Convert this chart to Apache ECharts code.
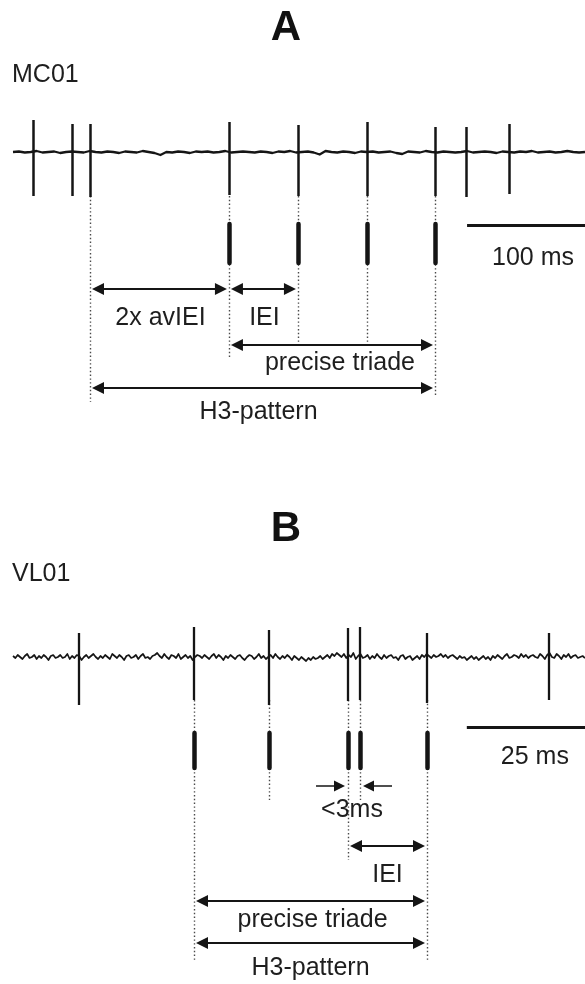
<!DOCTYPE html>
<html><head><meta charset="utf-8">
<script src="https://cdn.jsdelivr.net/npm/echarts@6/dist/echarts.min.js"></script>
<style>html,body{margin:0;padding:0;background:#fff}#c{width:585px;height:984px}</style>
</head><body><div id="c"></div>
<script>
// ---------------- DATA ----------------
// Panel A (MC01) – time in ms, amplitudes in arbitrary units
const spikeTimesA = [17.0, 50.0, 65.3, 183.1, 241.6, 300.2, 357.8, 384.1, 420.6];
const spikeUpA    = [32, 28, 28, 30, 27, 30, 25, 25, 28];
const spikeDownA  = [44, 44, 45, 43, 44, 44, 44, 45, 42];
const noiseStepA  = 5;
const noiseA = [0,0.5,-0.5,0,1,-0.5,0,0.5,-1,0, 0.5,0,-0.5,1,0,-0.5,0.5,0,-1,0.5,
  0,-0.5,1,0,-1,-3,0,-0.5,0.5,0, -1,0.5,0,0.5,-0.5,0,1,-0.5,0,0.5,
  0,-0.5,0.5,0,-1,0.5,0,1,-0.5,0, 0.5,-0.5,-2.5,1,0,-0.5,0.5,0,-1,0.5,
  0,0.5,-0.5,0,0.5,-1,-2,0.5,0,-0.5, 1,0,-0.5,0.5,0,-0.5,0,1,-0.5,0,
  0.5,0,-1,0.5,0,-0.5,0.5,0,1,-0.5, 0,0.5,-0.5,0,1,0,-0.5,0];
const rasterA     = [183.1, 241.6, 300.2, 357.8];
const guideTimesA = [65.3, 183.1, 241.6, 300.2, 357.8];
const intervalNamesA = ['2x avIEI', 'IEI', 'precise triade', 'H3-pattern'];
const intervalFromA  = [65.3, 183.1, 183.1, 65.3];
const intervalToA    = [183.1, 241.6, 357.8, 357.8];
const scaleBarA = [385, 485];          // 100 ms
const scaleLabelA = '100 ms';

// Panel B (VL01)
const spikeTimesB = [13.96, 38.29, 54.16, 70.87, 73.41, 87.58, 113.4];
const spikeUpB    = [24, 30, 27, 29, 30, 24, 24];
const spikeDownB  = [48, 43, 48, 44, 43, 46, 43];
const noiseStepB  = 0.5;
const noiseB = [
  1,-1,2,0,-2,1,3,-1,0,2,-2,1,-1,2,0,-3,1,2,-1,0,
  2,-1,0,3,-2,1,-1,2,1,-3,0,2,-1,1,3,0,-2,1,-1,2,
  0,-2,3,1,-1,2,0,-3,1,2,-1,0,2,-2,1,3,-1,0,-2,1,
  2,4,1,-1,3,0,-2,2,1,-1,3,-2,0,2,-1,1,-3,0,2,1,
  -1,2,0,-2,1,3,-1,2,0,-3,1,-1,2,0,-2,1,2,-1,-3,0,
  2,1,-2,0,3,-1,1,-2,0,2,-1,3,0,-2,1,-1,2,0,-3,1,
  -1,-3,0,-2,-4,-1,-3,0,-2,-1,1,-2,0,2,-1,3,1,4,2,0,
  3,-1,2,0,4,-2,1,3,-1,0,2,-2,1,-1,3,0,-2,2,-1,1,
  2,-1,0,-3,1,2,-2,0,1,-3,-1,1,-2,2,0,3,1,-1,2,0,
  1,3,0,2,-1,1,2,0,-2,1,-1,0,-3,-1,1,-2,0,-3,-1,1,
  -2,0,-3,1,-1,2,0,-2,1,3,-1,0,2,1,-1,3,0,2,-1,1,
  2,0,-1,3,1,-2,2,4,0,-1,3,1,-2,2,0,3,-1,1,2,-1,
  0,1,-1];
const rasterB     = [38.29, 54.16, 70.87, 73.41, 87.58];
const guideTimesB = [38.29, 54.16, 70.87, 73.41, 87.58];
const intervalNamesB = ['IEI', 'precise triade', 'H3-pattern'];
const intervalFromB  = [70.87, 38.29, 38.29];
const intervalToB    = [87.58, 87.58, 87.58];
const gapNameB = '<3ms';
const gapB = [70.87, 73.41];
const scaleBarB = [96, 121];           // 25 ms
const scaleLabelB = '25 ms';

// ---------------- LAYOUT ----------------
const FONT = '"Liberation Sans", Arial, Helvetica, sans-serif';
const INK = '#151515', TXT = '#1e1e1e', DOT = '#4a4a4a';
const GRID_W = 572, HEAD = 12;
const LA = {
  xMax: 485, traceTop: 118, traceH: 80, yMin: -46, yMax: 34,
  annTop: 196, annH: 240,
  guideEnd: [206, 162, 151, 151, 201],
  raster: [28, 67], scaleLevel: 29, scaleLabel: 62, scaleDx: 7,
  arrowLevel: [93, 93, 149, 192], labelLevel: [122, 122, 167, 216], labelDx: [1, 1, 8, -4]
};
const LB = {
  xMax: 121, traceTop: 623, traceH: 84, yMin: -50, yMax: 34,
  annTop: 700, annH: 275,
  guideEnd: [262, 100, 160, 100, 262],
  raster: [33, 68], scaleLevel: 27, scaleLabel: 57, scaleDx: 9,
  gapTail: 32, gapTip: 3, gapHead: 11, gapLevel: 86, gapLabel: 110,
  arrowLevel: [146, 201, 243], labelLevel: [175, 220, 268], labelDx: [0, 2, 0]
};
const pxA = GRID_W / LA.xMax, pxB = GRID_W / LB.xMax;   // px per ms
const insetA = (HEAD / 2 + 2) / pxA, insetB = (HEAD / 2 + 2) / pxB;

function buildNoise(noise, step) { return noise.map((v, i) => [i * step, v]); }

const chart = echarts.init(document.getElementById('c'), null, {renderer: 'canvas'});
const grids = [
  {left: 13, width: GRID_W, top: LA.traceTop, height: LA.traceH},
  {left: 13, width: GRID_W, top: LA.annTop, height: LA.annH},
  {left: 13, width: GRID_W, top: LB.traceTop, height: LB.traceH},
  {left: 13, width: GRID_W, top: LB.annTop, height: LB.annH}
];
const xAxes = [LA, LA, LB, LB].map((L, i) => ({type: 'value', gridIndex: i, min: 0, max: L.xMax, show: false}));
const yAxes = [
  {type: 'value', gridIndex: 0, min: LA.yMin, max: LA.yMax, show: false},
  {type: 'value', gridIndex: 1, min: 0, max: LA.annH, inverse: true, show: false},
  {type: 'value', gridIndex: 2, min: LB.yMin, max: LB.yMax, show: false},
  {type: 'value', gridIndex: 3, min: 0, max: LB.annH, inverse: true, show: false}
];

function linesSeries(idx, data, style, symbol, symbolSize, z) {
  return {type: 'lines', coordinateSystem: 'cartesian2d', xAxisIndex: idx, yAxisIndex: idx,
    polyline: false, silent: true, animation: false, z: z || 3,
    symbol: symbol || ['none', 'none'], symbolSize: symbolSize || 10,
    lineStyle: Object.assign({opacity: 1, curveness: 0}, style), data: data};
}
function labelSeries(idx, items) {
  return {type: 'scatter', xAxisIndex: idx, yAxisIndex: idx, symbolSize: 1, silent: true, animation: false,
    itemStyle: {color: 'rgba(0,0,0,0)', opacity: 1}, z: 5,
    label: {show: true, position: 'inside', formatter: '{b}', fontSize: 25, color: TXT, opacity: 1, fontFamily: FONT},
    data: items};
}
function arrowData(from, to, levels, inset) {
  return from.map((f, i) => ({coords: [[f + inset, levels[i]], [to[i] - inset, levels[i]]]}));
}

const series = [];
// traces (noise baseline + spikes)
series.push({type: 'line', xAxisIndex: 0, yAxisIndex: 0, showSymbol: false, symbol: 'none', animation: false, silent: true,
  lineStyle: {width: 2.3, color: INK, join: 'round'}, data: buildNoise(noiseA, noiseStepA)});
series.push(linesSeries(0, spikeTimesA.map((t, i) => ({coords: [[t, spikeUpA[i]], [t, -spikeDownA[i]]]})),
  {color: INK, width: 2.5}));
series.push({type: 'line', xAxisIndex: 2, yAxisIndex: 2, showSymbol: false, symbol: 'none', animation: false, silent: true,
  lineStyle: {width: 1.7, color: INK, join: 'round'}, data: buildNoise(noiseB, noiseStepB)});
series.push(linesSeries(2, spikeTimesB.map((t, i) => ({coords: [[t, spikeUpB[i]], [t, -spikeDownB[i]]]})),
  {color: INK, width: 2.3}));

// Panel A annotations
series.push(linesSeries(1, guideTimesA.map((t, i) => ({coords: [[t, 0], [t, LA.guideEnd[i]]]})),
  {color: DOT, width: 1.4, type: [1.4, 2.4]}, null, null, 2));
series.push(linesSeries(1, rasterA.map(t => ({coords: [[t, LA.raster[0]], [t, LA.raster[1]]]})),
  {color: INK, width: 4.5, cap: 'round'}));
series.push(linesSeries(1, [{coords: [[scaleBarA[0], LA.scaleLevel], [scaleBarA[1] + 5, LA.scaleLevel]]}],
  {color: INK, width: 3}));
series.push(linesSeries(1, arrowData(intervalFromA, intervalToA, LA.arrowLevel, insetA),
  {color: INK, width: 2}, ['triangle', 'triangle'], HEAD));
series.push(labelSeries(1, intervalNamesA.map((n, i) => ({name: n,
  value: [(intervalFromA[i] + intervalToA[i]) / 2, LA.labelLevel[i]], label: {offset: [LA.labelDx[i], 0]}}))
  .concat([{name: scaleLabelA, value: [(scaleBarA[0] + scaleBarA[1]) / 2, LA.scaleLabel], label: {offset: [LA.scaleDx, 0]}}])));

// Panel B annotations
series.push(linesSeries(3, guideTimesB.map((t, i) => ({coords: [[t, 0], [t, LB.guideEnd[i]]]})),
  {color: DOT, width: 1.4, type: [1.4, 2.4]}, null, null, 2));
series.push(linesSeries(3, rasterB.map(t => ({coords: [[t, LB.raster[0]], [t, LB.raster[1]]]})),
  {color: INK, width: 4.5, cap: 'round'}));
series.push(linesSeries(3, [{coords: [[scaleBarB[0], LB.scaleLevel], [scaleBarB[1] + 2, LB.scaleLevel]]}],
  {color: INK, width: 3}));
series.push(linesSeries(3, arrowData(intervalFromB, intervalToB, LB.arrowLevel, insetB),
  {color: INK, width: 2}, ['triangle', 'triangle'], HEAD));
series.push(linesSeries(3, [
  {coords: [[gapB[0] - LB.gapTail / pxB, LB.gapLevel], [gapB[0] - (LB.gapTip + LB.gapHead / 2) / pxB, LB.gapLevel]]},
  {coords: [[gapB[1] + LB.gapTail / pxB, LB.gapLevel], [gapB[1] + (LB.gapTip + LB.gapHead / 2) / pxB, LB.gapLevel]]}],
  {color: INK, width: 1.6}, ['none', 'triangle'], LB.gapHead));
series.push(labelSeries(3, intervalNamesB.map((n, i) => ({name: n,
  value: [(intervalFromB[i] + intervalToB[i]) / 2, LB.labelLevel[i]], label: {offset: [LB.labelDx[i], 0]}}))
  .concat([{name: gapNameB, value: [(gapB[0] + gapB[1]) / 2, LB.gapLabel], label: {offset: [-2, 0]}},
           {name: scaleLabelB, value: [(scaleBarB[0] + scaleBarB[1]) / 2, LB.scaleLabel], label: {offset: [LB.scaleDx, 0]}}])));

chart.setOption({
  animation: false,
  backgroundColor: '#fff',
  grid: grids, xAxis: xAxes, yAxis: yAxes, series: series,
  graphic: [
    {type: 'text', x: 286, y: 28, style: {text: 'A', font: 'bold 42px ' + FONT, fill: '#111', align: 'center', verticalAlign: 'middle'}},
    {type: 'text', x: 12, y: 75, style: {text: 'MC01', font: '25px ' + FONT, fill: TXT, align: 'left', verticalAlign: 'middle'}},
    {type: 'text', x: 286, y: 529, style: {text: 'B', font: 'bold 42px ' + FONT, fill: '#111', align: 'center', verticalAlign: 'middle'}},
    {type: 'text', x: 12, y: 574, style: {text: 'VL01', font: '25px ' + FONT, fill: TXT, align: 'left', verticalAlign: 'middle'}}
  ]
});
</script></body></html>
